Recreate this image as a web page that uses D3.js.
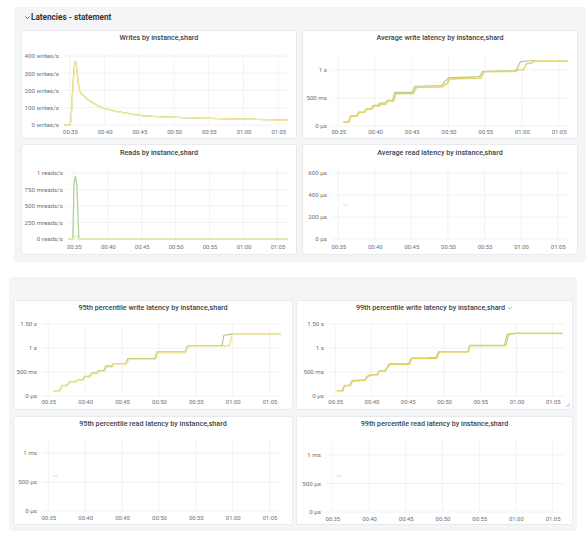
<!DOCTYPE html>
<html>
<head>
<meta charset="utf-8">
<script src="https://cdn.jsdelivr.net/npm/d3@7/dist/d3.min.js"></script>
<style>
  html, body { margin: 0; padding: 0; background: #ffffff; }
  svg { display: block; font-family: Roboto, "Noto Sans", "DejaVu Sans", sans-serif; }
</style>
</head>
<body>
<svg id="chart" width="587" height="535"></svg>
<script>
// ---------------- DATA (time in minutes after 00:00) ----------------
const timeRange = [34.15, 66.55];
const xTickMinutes = [35, 40, 45, 50, 55, 60, 65];

const sectionTitle = "Latencies - statement";

// Writes by instance,shard (writes/s)
const writesGreen = [[34.15,0],[35.0,0],[35.15,22],[35.4,205],[35.6,335],[35.8,370],[36.0,325],[36.2,245],[36.4,200],[36.6,183],[36.9,172],[37.5,150],[38.0,137],[38.4,125],[39.0,113],[39.8,97],[40.8,88],[42.0,76],[43.2,69],[44.3,61],[45.5,53],[46.7,50],[47.9,49],[50.0,46],[52.5,40],[55.0,39],[57.5,35],[60.0,36],[62.0,32],[64.0,31],[66.4,28]];
const writesYellow = [[34.15,0],[35.0,0],[35.15,20],[35.4,200],[35.6,330],[35.8,367],[36.0,330],[36.2,250],[36.4,203],[36.6,185],[36.9,174],[37.5,152],[38.0,135],[38.4,127],[39.0,112],[39.8,98],[40.8,87],[42.0,77],[43.2,68],[44.3,60],[45.5,54],[46.7,51],[47.9,48],[50.0,45],[52.5,41],[55.0,38],[57.5,36],[60.0,35],[62.0,33],[64.0,30],[66.4,27]];
const writesPale = [[34.15,0],[35.0,0],[35.2,30],[35.45,215],[35.65,340],[35.85,365],[36.05,320],[36.25,240],[36.45,198],[36.7,180],[37.0,170],[37.6,148],[38.1,133],[38.5,124],[39.1,110],[39.9,96],[40.9,86],[42.1,75],[43.3,67],[44.4,59],[45.6,53],[46.8,50],[48.0,47],[50.1,44],[52.6,41],[55.1,38],[57.6,36],[60.1,34],[62.1,32],[64.1,30],[66.4,27]];
const writesTicks = [0, 100, 200, 300, 400];
const writesLabels = ["0 writes/s", "100 writes/s", "200 writes/s", "300 writes/s", "400 writes/s"];

// Average write latency (seconds)
const avgWriteGreen = [[35.7,0.07],[36.4,0.07],[36.7,0.18],[37.5,0.19],[37.8,0.25],[38.5,0.25],[38.8,0.30],[39.5,0.31],[39.8,0.37],[40.4,0.37],[40.7,0.41],[41.4,0.41],[41.7,0.46],[42.4,0.46],[42.7,0.60],[45.1,0.60],[45.4,0.71],[49.1,0.72],[49.5,0.80],[49.7,0.81],[50.0,0.86],[54.2,0.88],[54.6,0.97],[59.2,0.99],[59.8,1.15],[61.5,1.17],[66.3,1.17]];
const avgWriteYellow = [[35.7,0.07],[36.4,0.07],[36.7,0.18],[37.5,0.18],[37.8,0.245],[38.5,0.245],[38.8,0.30],[39.5,0.30],[39.8,0.36],[40.5,0.36],[40.8,0.39],[41.4,0.39],[41.7,0.45],[42.5,0.45],[42.8,0.58],[45.2,0.58],[45.6,0.69],[49.2,0.70],[49.5,0.75],[49.8,0.75],[50.1,0.84],[54.4,0.86],[54.8,0.97],[59.2,0.98],[59.4,1.0],[60.2,1.0],[60.6,1.11],[61.3,1.12],[61.7,1.16],[66.3,1.16]];
const avgWritePale = [[35.7,0.06],[36.5,0.06],[36.8,0.17],[37.6,0.17],[37.9,0.24],[38.6,0.24],[38.9,0.29],[39.6,0.29],[39.9,0.35],[40.6,0.35],[40.9,0.38],[41.5,0.38],[41.8,0.44],[42.6,0.44],[42.9,0.57],[45.3,0.57],[45.6,0.66],[45.9,0.69],[49.3,0.70],[49.6,0.74],[49.9,0.74],[50.2,0.83],[54.5,0.85],[54.9,0.96],[59.3,0.97],[59.5,1.01],[60.3,1.01],[60.7,1.12],[61.4,1.13],[61.8,1.17],[66.3,1.17]];
const avgWriteTicks = [0, 0.5, 1];
const avgWriteLabels = ["0 µs", "500 ms", "1 s"];

// Reads by instance,shard (reads/s)
const readsGreen = [[34.15,0],[34.85,0],[35.05,0.85],[35.25,0.95],[35.45,0.82],[35.75,0],[66.5,0]];
const readsYellow = [[34.15,0],[35.0,0],[35.15,0.05],[35.5,0.05],[35.65,0],[66.5,0]];
const readsTicks = [0, 0.25, 0.5, 0.75, 1];
const readsLabels = ["0 reads/s", "250 mreads/s", "500 mreads/s", "750 mreads/s", "1 reads/s"];

// Average read latency (µs)
const avgReadYellow = [[35.6,310],[36.3,310]];
const avgReadTicks = [0, 200, 400, 600];
const avgReadLabels = ["0 µs", "200 µs", "400 µs", "600 µs"];

// 95th percentile write latency (seconds)
const p95WriteGreen = [[35.72,0.10],[36.5,0.10],[36.83,0.22],[37.5,0.22],[37.82,0.29],[38.6,0.29],[38.95,0.335],[39.65,0.335],[39.95,0.41],[40.55,0.41],[40.9,0.48],[41.55,0.48],[41.9,0.53],[42.55,0.53],[42.8,0.63],[43.6,0.63],[43.8,0.67],[45.5,0.67],[45.8,0.78],[49.45,0.78],[49.75,0.92],[53.55,0.92],[53.85,1.04],[54.7,1.05],[58.55,1.05],[58.8,1.26],[59.7,1.29],[66.5,1.29]];
const p95WriteYellow = [[35.72,0.10],[36.53,0.10],[36.86,0.215],[37.54,0.215],[37.85,0.285],[38.66,0.285],[38.98,0.33],[39.7,0.33],[40.0,0.40],[40.6,0.40],[40.93,0.47],[41.6,0.47],[41.96,0.52],[42.6,0.52],[42.87,0.61],[43.64,0.61],[43.86,0.665],[45.58,0.665],[45.9,0.77],[49.5,0.77],[49.83,0.91],[53.6,0.91],[53.9,1.03],[54.7,1.04],[58.55,1.04],[59.6,1.06],[59.9,1.285],[66.5,1.285]];
const p95WritePale = [[35.72,0.095],[36.6,0.095],[36.9,0.21],[37.6,0.21],[37.9,0.28],[38.7,0.28],[39.0,0.325],[39.75,0.325],[40.05,0.39],[40.65,0.39],[40.95,0.46],[41.65,0.46],[42.0,0.51],[42.65,0.51],[42.9,0.60],[43.7,0.60],[43.9,0.66],[45.6,0.66],[45.95,0.76],[49.55,0.76],[49.9,0.90],[53.65,0.90],[53.95,1.02],[54.75,1.035],[58.6,1.035],[59.6,1.05],[59.95,1.28],[66.5,1.28]];

// 99th percentile write latency (seconds)
const p99WriteGreen = [[35.23,0.11],[36.0,0.11],[36.25,0.22],[37.0,0.22],[37.33,0.32],[39.1,0.335],[39.4,0.41],[39.95,0.445],[40.75,0.445],[41.05,0.525],[41.85,0.525],[42.45,0.67],[45.15,0.67],[45.5,0.79],[47.9,0.79],[48.0,0.80],[48.9,0.80],[49.3,0.925],[53.3,0.925],[53.55,1.055],[58.35,1.055],[58.7,1.285],[59.7,1.305],[66.4,1.305]];
const p99WriteYellow = [[35.23,0.11],[36.06,0.11],[36.28,0.215],[37.06,0.215],[37.38,0.31],[39.13,0.33],[39.45,0.40],[40.0,0.44],[40.8,0.44],[41.1,0.52],[41.9,0.52],[42.5,0.66],[45.2,0.66],[45.55,0.785],[48.98,0.785],[49.35,0.92],[53.34,0.92],[53.57,1.05],[58.38,1.05],[58.6,1.06],[58.9,1.28],[59.76,1.305],[66.4,1.305]];
const p99WritePale = [[35.23,0.105],[36.1,0.105],[36.3,0.21],[37.1,0.21],[37.4,0.305],[39.15,0.325],[39.5,0.395],[40.05,0.435],[40.85,0.435],[41.15,0.515],[41.95,0.515],[42.55,0.655],[45.25,0.655],[45.6,0.78],[49.0,0.78],[49.4,0.915],[53.4,0.915],[53.6,1.045],[58.4,1.045],[58.95,1.275],[59.8,1.30],[66.4,1.30]];
const writeLatTicks = [0, 0.5, 1, 1.5];
const writeLatLabels = ["0 µs", "500 ms", "1 s", "1.50 s"];

// 95th / 99th percentile read latency (µs)
const p95ReadYellow = [[35.64,603],[36.3,603]];
const p99ReadYellow = [[35.54,630],[36.3,630]];
const readLatTicks = [0, 500, 1000];
const readLatLabels = ["0 µs", "500 µs", "1 ms"];

// ---------------- STYLE ----------------
const C_GREEN = "#aacf95";
const C_YELLOW = "#e6d25a";
const C_PALE = "#f2e9ac";
const GRID = "#efefef";
const SECTION_BG = "#f4f5f6";
const PANEL_BORDER = "#e9eaeb";
const TITLE_COLOR = "#3b3f45";
const LABEL_COLOR = "#6c7077";

const svg = d3.select("#chart");
const t0 = Date.UTC(2020, 0, 1, 0, 0, 0);
const toDate = m => new Date(t0 + m * 60000);
const fmt = d3.utcFormat("%H:%M");

// sections
svg.append("rect").attr("x", 14).attr("y", 7).attr("width", 572).attr("height", 255)
  .attr("fill", SECTION_BG).attr("rx", 2);
svg.append("rect").attr("x", 9).attr("y", 277).attr("width", 568).attr("height", 254)
  .attr("fill", SECTION_BG).attr("rx", 2);

// section header
svg.append("path").attr("d", "M25.5,16.5 L27.5,18.5 L29.5,16.5")
  .attr("fill", "none").attr("stroke", "#555").attr("stroke-width", 0.9);
svg.append("text").attr("x", 31).attr("y", 18).attr("dominant-baseline", "middle")
  .attr("font-size", 8.2).attr("font-weight", 700).attr("fill", "#33373c").text(sectionTitle);

const panels = [
  { box:[21,30,276,109], title:"Writes by instance,shard", titleY:38,
    plot:{l:64, r:289, y0:125, yTop:56, gridTop:55}, yMax:400, xLabelY:132,
    ticks:writesTicks, labels:writesLabels,
    series:[[writesGreen,C_GREEN],[writesYellow,C_YELLOW],[writesPale,C_PALE]] },
  { box:[302,30,276,109], title:"Average write latency by instance,shard", titleY:38,
    plot:{l:332, r:570, y0:126, yTop:56, gridTop:55}, yMax:1.25, xLabelY:132,
    ticks:avgWriteTicks, labels:avgWriteLabels,
    series:[[avgWriteGreen,C_GREEN],[avgWritePale,C_PALE],[avgWriteYellow,C_YELLOW]] },
  { box:[21,144,276,111], title:"Reads by instance,shard", titleY:153,
    plot:{l:68, r:288, y0:239, yTop:173, gridTop:169}, yMax:1, xLabelY:247,
    ticks:readsTicks, labels:readsLabels,
    series:[[readsGreen,C_GREEN],[readsYellow,C_PALE]] },
  { box:[302,144,276,111], title:"Average read latency by instance,shard", titleY:153,
    plot:{l:332, r:569, y0:239, yTop:173, gridTop:169}, yMax:600, xLabelY:247,
    ticks:avgReadTicks, labels:avgReadLabels,
    series:[[avgReadYellow,C_PALE]] },
  { box:[13,300,280,110], title:"95th percentile write latency by instance,shard", titleY:308,
    plot:{l:42, r:281, y0:396, yTop:324, gridTop:324}, yMax:1.5, xLabelY:402,
    ticks:writeLatTicks, labels:writeLatLabels,
    series:[[p95WriteGreen,C_GREEN],[p95WriteYellow,C_YELLOW],[p95WritePale,C_PALE]] },
  { box:[296,300,277,110], title:"99th percentile write latency by instance,shard", titleY:308, chevron:true,
    plot:{l:329, r:564, y0:396, yTop:324, gridTop:324}, yMax:1.5, xLabelY:402,
    ticks:writeLatTicks, labels:writeLatLabels, resize:true,
    series:[[p99WriteGreen,C_GREEN],[p99WritePale,C_PALE],[p99WriteYellow,C_YELLOW]] },
  { box:[13,416,280,109], title:"95th percentile read latency by instance,shard", titleY:424,
    plot:{l:42, r:281, y0:511, yTop:441.4, gridTop:440}, yMax:1200, xLabelY:518,
    ticks:readLatTicks, labels:readLatLabels,
    series:[[p95ReadYellow,C_PALE]] },
  { box:[296,416,277,109], title:"99th percentile read latency by instance,shard", titleY:424,
    plot:{l:326, r:564, y0:512, yTop:440.75, gridTop:440}, yMax:1250, xLabelY:519,
    ticks:readLatTicks, labels:readLatLabels,
    series:[[p99ReadYellow,C_PALE]] }
];

panels.forEach(p => {
  const [bx, by, bw, bh] = p.box;
  const g = svg.append("g");
  g.append("rect").attr("x", bx + 0.5).attr("y", by + 0.5).attr("width", bw - 1).attr("height", bh - 1)
    .attr("fill", "#ffffff").attr("stroke", PANEL_BORDER).attr("stroke-width", 1).attr("rx", 2);

  const tt = g.append("text").attr("x", bx + bw / 2 - (p.chevron ? 4 : 0)).attr("y", p.titleY)
    .attr("text-anchor", "middle").attr("dominant-baseline", "middle")
    .attr("font-size", 7.2).attr("font-weight", 500).attr("fill", TITLE_COLOR).text(p.title);
  if (p.chevron) {
    const tw = tt.node().getComputedTextLength();
    const cx = bx + bw / 2 - 4 + tw / 2 + 5;
    g.append("path").attr("d", `M${cx - 1.8},${p.titleY - 0.8} L${cx},${p.titleY + 1} L${cx + 1.8},${p.titleY - 0.8}`)
      .attr("fill", "none").attr("stroke", "#8a8d92").attr("stroke-width", 0.7);
  }
  if (p.resize) {
    const rx = bx + bw - 3, ry = by + bh - 3;
    g.append("path").attr("d", `M${rx - 4},${ry} L${rx},${ry - 4} M${rx - 2},${ry} L${rx},${ry - 2}`)
      .attr("stroke", "#9a9da2").attr("stroke-width", 0.6);
  }

  const x = d3.scaleUtc().domain(timeRange.map(toDate)).range([p.plot.l, p.plot.r]);
  const y = d3.scaleLinear().domain([0, p.yMax]).range([p.plot.y0, p.plot.yTop]);

  // vertical grid
  const xt = xTickMinutes.map(toDate);
  g.selectAll(".vg").data(xt).join("line")
    .attr("x1", d => x(d)).attr("x2", d => x(d))
    .attr("y1", p.plot.gridTop).attr("y2", p.plot.y0)
    .attr("stroke", GRID).attr("stroke-width", 0.8);
  // horizontal grid
  g.selectAll(".hg").data(p.ticks).join("line")
    .attr("x1", p.plot.l).attr("x2", p.plot.r)
    .attr("y1", d => y(d)).attr("y2", d => y(d))
    .attr("stroke", GRID).attr("stroke-width", 0.8);

  // y axis labels
  const yAxis = d3.axisLeft(y).tickValues(p.ticks).tickSize(0).tickPadding(5)
    .tickFormat((d, i) => p.labels[i]);
  const ya = g.append("g").attr("transform", `translate(${p.plot.l},0)`).call(yAxis);
  ya.select(".domain").remove();
  ya.selectAll("text").attr("font-size", 6.2).attr("fill", LABEL_COLOR)
    .attr("font-family", "Roboto, 'Noto Sans', sans-serif");

  // x axis labels
  const xAxis = d3.axisBottom(x).tickValues(xt).tickSize(0).tickPadding(0).tickFormat(fmt);
  const xa = g.append("g").attr("transform", `translate(0,${p.xLabelY})`).call(xAxis);
  xa.select(".domain").remove();
  xa.selectAll("text").attr("dy", "0.35em").attr("font-size", 5.9).attr("fill", LABEL_COLOR)
    .attr("font-family", "Roboto, 'Noto Sans', sans-serif");

  // series
  const line = d3.line().x(d => x(toDate(d[0]))).y(d => y(d[1]));
  p.series.forEach(([data, color]) => {
    g.append("path").datum(data).attr("d", line)
      .attr("fill", "none").attr("stroke", color).attr("stroke-width", 1.2)
      .attr("stroke-linejoin", "round").attr("stroke-linecap", "butt");
  });
});
</script>
</body>
</html>
